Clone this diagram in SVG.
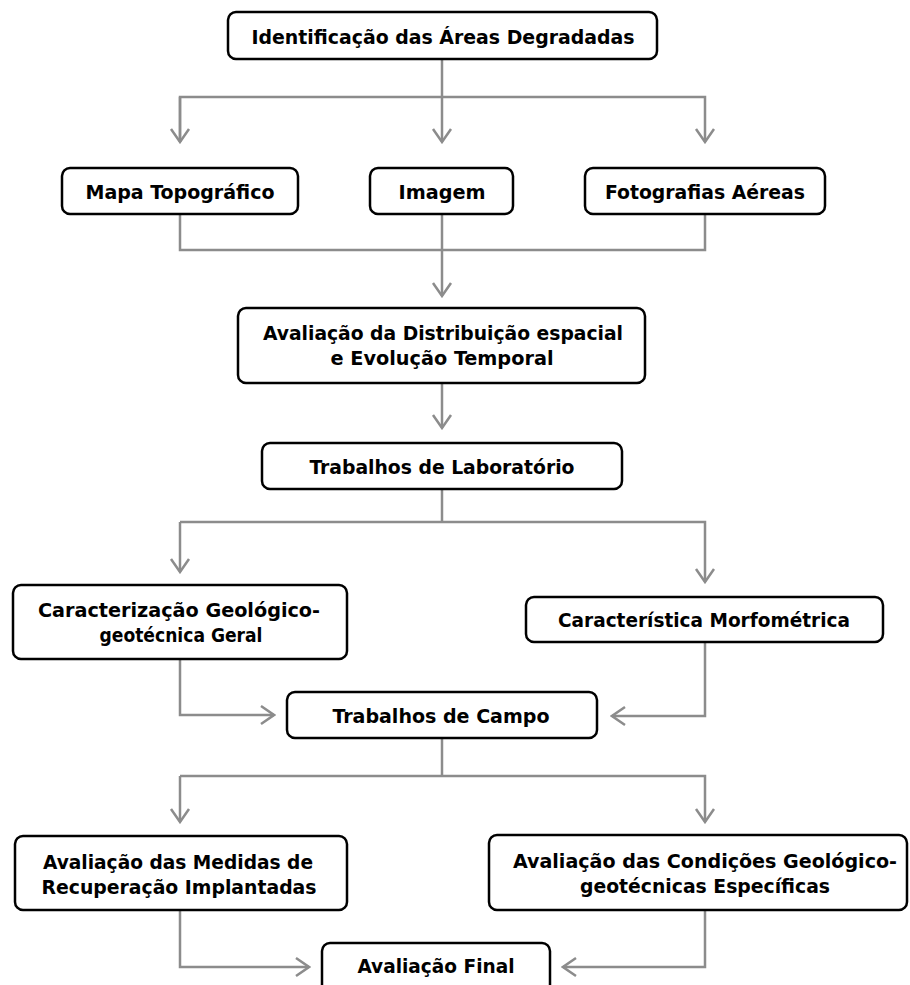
<svg xmlns="http://www.w3.org/2000/svg" width="910" height="985" viewBox="0 0 910 985">
<style>
.box{fill:#fff;stroke:#000;stroke-width:2.5}
.t{font-family:"DejaVu Sans",Verdana,sans-serif;font-size:20px;font-weight:bold;font-stretch:condensed;fill:#000;text-anchor:middle}
.c{fill:none;stroke:#8c8c8c;stroke-width:2.5}
</style>
<defs>
<marker id="ah" markerUnits="userSpaceOnUse" viewBox="-15 -11 17 22" refX="0" refY="0" markerWidth="17" markerHeight="22" orient="auto">
<path d="M-13,-9 L0,0 L-13,9" fill="none" stroke="#8c8c8c" stroke-width="2.5"/>
</marker>
</defs>
<rect width="910" height="985" fill="#fff"/>
<g id="connectors">
<path class="c" d="M442,59 V97"/>
<path class="c" d="M180,142 V97 H705 V142" marker-end="url(#ah)"/>
<path class="c" d="M180,97 V142" marker-end="url(#ah)"/>
<path class="c" d="M442,97 V142" marker-end="url(#ah)"/>
<path class="c" d="M180,214 V250 H705 V214"/>
<path class="c" d="M442,214 V296" marker-end="url(#ah)"/>
<path class="c" d="M442,383 V428" marker-end="url(#ah)"/>
<path class="c" d="M442,489 V522"/>
<path class="c" d="M180,522 H705 V582" marker-end="url(#ah)"/>
<path class="c" d="M180,522 V572" marker-end="url(#ah)"/>
<path class="c" d="M180,659 V715 H274" marker-end="url(#ah)"/>
<path class="c" d="M705,642 V716 H612" marker-end="url(#ah)"/>
<path class="c" d="M442,738 V776"/>
<path class="c" d="M180,776 H705 V822" marker-end="url(#ah)"/>
<path class="c" d="M180,776 V822" marker-end="url(#ah)"/>
<path class="c" d="M180,910 V967 H309" marker-end="url(#ah)"/>
<path class="c" d="M705,910 V967 H563" marker-end="url(#ah)"/>
</g>
<g id="n1"><rect class="box" x="228" y="12" width="429" height="47" rx="8"/><text class="t" x="443" y="44" textLength="383" lengthAdjust="spacingAndGlyphs">Identificação das Áreas Degradadas</text></g>
<g id="n2"><rect class="box" x="62" y="168" width="236" height="46" rx="8"/><text class="t" x="180" y="199" textLength="189" lengthAdjust="spacingAndGlyphs">Mapa Topográfico</text></g>
<g id="n3"><rect class="box" x="370" y="168" width="143" height="46" rx="8"/><text class="t" x="442" y="199" textLength="87" lengthAdjust="spacingAndGlyphs">Imagem</text></g>
<g id="n4"><rect class="box" x="585" y="168" width="240" height="46" rx="8"/><text class="t" x="705" y="199" textLength="200" lengthAdjust="spacingAndGlyphs">Fotografias Aéreas</text></g>
<g id="n5"><rect class="box" x="238" y="308" width="407" height="75" rx="8"/><text class="t" x="443" y="340" textLength="360" lengthAdjust="spacingAndGlyphs">Avaliação da Distribuição espacial</text><text class="t" x="442" y="365" textLength="223" lengthAdjust="spacingAndGlyphs">e Evolução Temporal</text></g>
<g id="n6"><rect class="box" x="262" y="443" width="360" height="46" rx="8"/><text class="t" x="442" y="474" textLength="265" lengthAdjust="spacingAndGlyphs">Trabalhos de Laboratório</text></g>
<g id="n7"><rect class="box" x="13" y="585" width="334" height="74" rx="8"/><text class="t" x="179" y="617" textLength="282" lengthAdjust="spacingAndGlyphs">Caracterização Geológico-</text><text class="t" x="181" y="642" textLength="163" lengthAdjust="spacingAndGlyphs">geotécnica Geral</text></g>
<g id="n8"><rect class="box" x="526" y="597" width="357" height="45" rx="8"/><text class="t" x="704" y="627" textLength="292" lengthAdjust="spacingAndGlyphs">Característica Morfométrica</text></g>
<g id="n9"><rect class="box" x="287" y="692" width="310" height="46" rx="8"/><text class="t" x="441" y="723" textLength="217" lengthAdjust="spacingAndGlyphs">Trabalhos de Campo</text></g>
<g id="n10"><rect class="box" x="15" y="836" width="332" height="74" rx="8"/><text class="t" x="178" y="869" textLength="270" lengthAdjust="spacingAndGlyphs">Avaliação das Medidas de</text><text class="t" x="179" y="894" textLength="275" lengthAdjust="spacingAndGlyphs">Recuperação Implantadas</text></g>
<g id="n11"><rect class="box" x="489" y="835" width="418" height="75" rx="8"/><text class="t" x="705" y="868" textLength="384" lengthAdjust="spacingAndGlyphs">Avaliação das Condições Geológico-</text><text class="t" x="705" y="893" textLength="250" lengthAdjust="spacingAndGlyphs">geotécnicas Específicas</text></g>
<g id="n12"><rect class="box" x="322" y="943" width="228" height="50" rx="8"/><text class="t" x="436" y="973" textLength="157" lengthAdjust="spacingAndGlyphs">Avaliação Final</text></g>
</svg>
